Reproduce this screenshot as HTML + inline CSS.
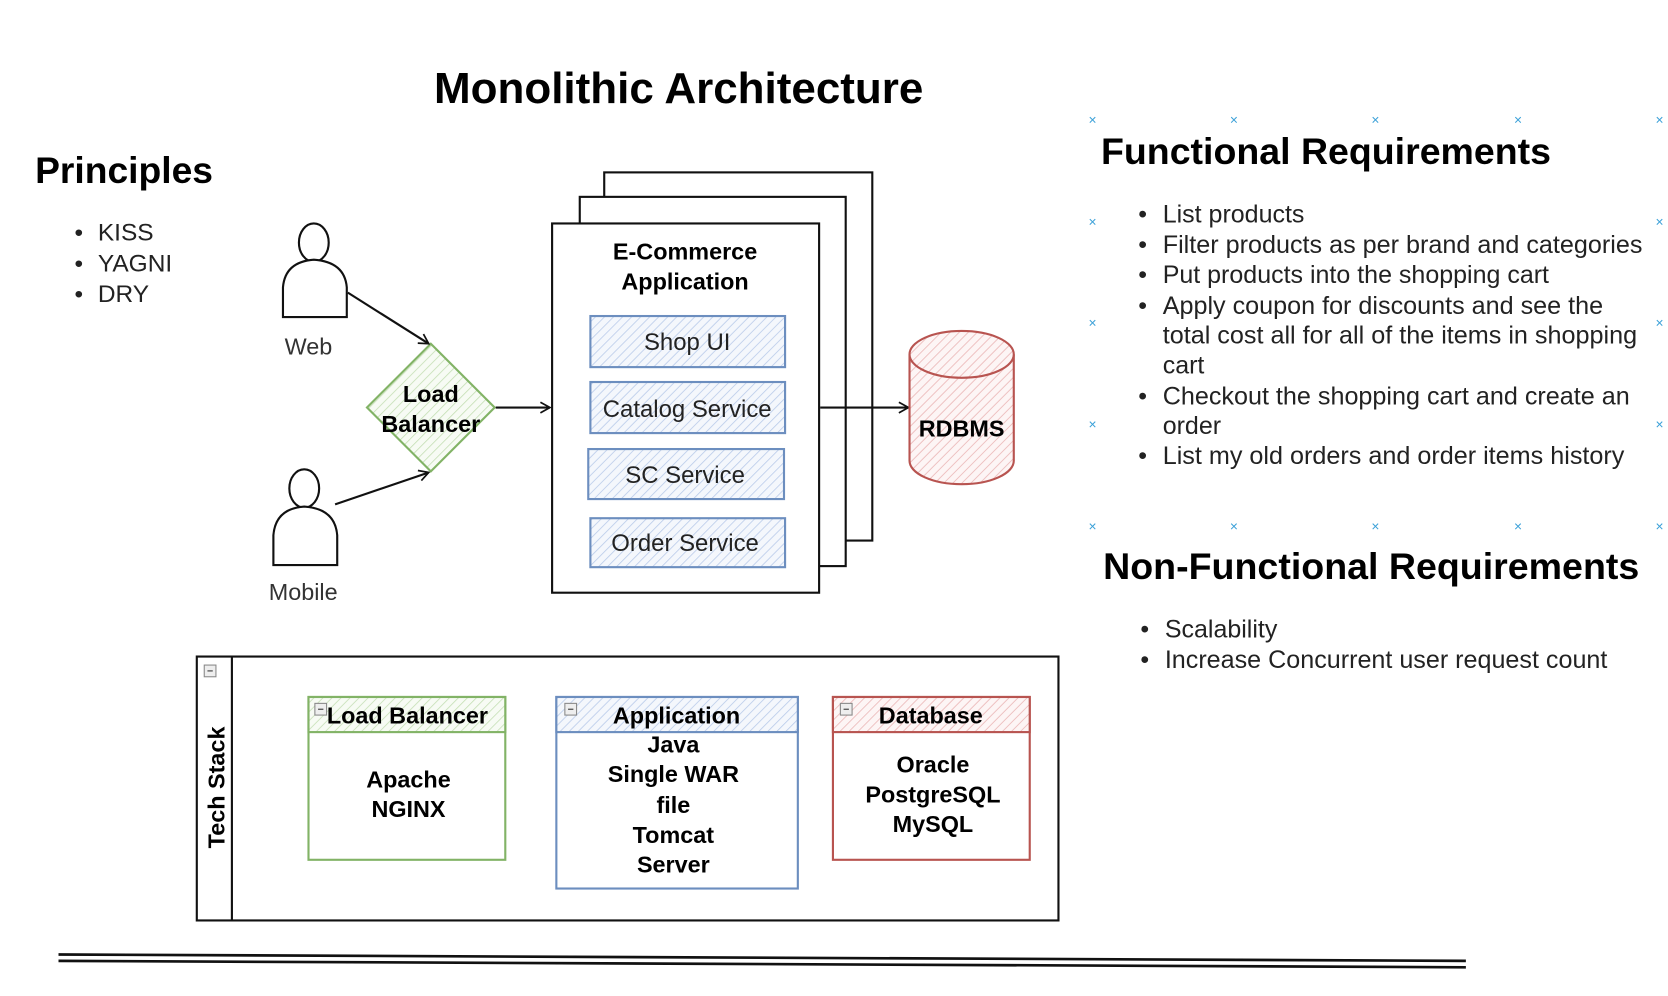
<!DOCTYPE html>
<html><head><meta charset="utf-8"><style>
html,body{margin:0;padding:0;background:#fff;}
svg{display:block;}
text{font-family:"Liberation Sans",Arial,sans-serif;}
</style></head><body>
<svg width="1668" height="996" viewBox="0 0 1568 936" preserveAspectRatio="none" xmlns="http://www.w3.org/2000/svg">
<defs>
<pattern id="hb" width="6" height="6" patternUnits="userSpaceOnUse" patternTransform="rotate(45)"><rect width="6" height="6" fill="#f4f7fc"/><line x1="0" y1="0" x2="0" y2="6" stroke="#b9cbea" stroke-width="1.5"/></pattern>
<pattern id="hg" width="6" height="6" patternUnits="userSpaceOnUse" patternTransform="rotate(45)"><rect width="6" height="6" fill="#f7fbf4"/><line x1="0" y1="0" x2="0" y2="6" stroke="#c5dfb5" stroke-width="1.5"/></pattern>
<pattern id="hr" width="6" height="6" patternUnits="userSpaceOnUse" patternTransform="rotate(45)"><rect width="6" height="6" fill="#fdf5f5"/><line x1="0" y1="0" x2="0" y2="6" stroke="#eab5b5" stroke-width="1.5"/></pattern>
<marker id="ar" markerWidth="12" markerHeight="12" refX="10" refY="6" orient="auto" markerUnits="userSpaceOnUse"><path d="M1,1 L10,6 L1,11" fill="none" stroke="#111" stroke-width="1.6"/></marker>
</defs>

<text x="408" y="97" font-size="41" font-weight="bold" textLength="460" lengthAdjust="spacingAndGlyphs">Monolithic Architecture</text>

<text x="33" y="172" font-size="35" font-weight="bold">Principles</text>
<g font-size="23" fill="#222">
<text x="70" y="226">•</text><text x="92" y="226">KISS</text>
<text x="70" y="255">•</text><text x="92" y="255">YAGNI</text>
<text x="70" y="284">•</text><text x="92" y="284">DRY</text>
</g>

<g fill="#fff" stroke="#111" stroke-width="2">
<ellipse cx="295" cy="228" rx="14" ry="18"/>
<path d="M266,298 L266,270 Q268,246 295,244 Q324,246 326,270 L326,298 Z"/>
<ellipse cx="286" cy="459" rx="14" ry="18"/>
<path d="M257,531 L257,503 Q259,478 286,476 Q315,478 317,503 L317,531 Z"/>
</g>
<text x="290" y="333" font-size="22" fill="#333" text-anchor="middle">Web</text>
<text x="285" y="564" font-size="22" fill="#333" text-anchor="middle">Mobile</text>

<path d="M405,323 L465,383 L405,443 L345,383 Z" fill="url(#hg)" stroke="#82b366" stroke-width="2"/>
<text x="405" y="378" font-size="22" font-weight="bold" text-anchor="middle">Load</text>
<text x="405" y="406" font-size="22" font-weight="bold" text-anchor="middle">Balancer</text>

<g stroke="#111" stroke-width="2" fill="none">
<line x1="327" y1="275" x2="403" y2="323" marker-end="url(#ar)"/>
<line x1="315" y1="474" x2="403" y2="444" marker-end="url(#ar)"/>
<line x1="466" y1="383" x2="517" y2="383" marker-end="url(#ar)"/>
</g>

<g fill="#fff" stroke="#111" stroke-width="2">
<rect x="568" y="162" width="252" height="346"/>
<rect x="545" y="185" width="250" height="347"/>
<rect x="519" y="210" width="251" height="347"/>
</g>
<text x="644" y="244" font-size="22" font-weight="bold" text-anchor="middle">E-Commerce</text>
<text x="644" y="272" font-size="22" font-weight="bold" text-anchor="middle">Application</text>
<g stroke="#6c8ebf" stroke-width="2" fill="url(#hb)">
<rect x="555" y="297" width="183" height="48"/>
<rect x="555" y="359" width="183" height="48"/>
<rect x="553" y="422" width="184" height="47"/>
<rect x="555" y="487" width="183" height="46"/>
</g>
<g font-size="22.5" fill="#222" text-anchor="middle">
<text x="646" y="329">Shop UI</text>
<text x="646" y="392">Catalog Service</text>
<text x="644" y="454">SC Service</text>
<text x="644" y="518">Order Service</text>
</g>
<line x1="771" y1="383" x2="854" y2="383" stroke="#111" stroke-width="2" marker-end="url(#ar)"/>

<path d="M855,333 L855,433 A49,22 0 0 0 953,433 L953,333" fill="url(#hr)" stroke="#b85450" stroke-width="2"/>
<ellipse cx="904" cy="333" rx="49" ry="22" fill="url(#hr)" stroke="#b85450" stroke-width="2"/>
<text x="904" y="410" font-size="22" font-weight="bold" text-anchor="middle">RDBMS</text>

<g fill="#3aa0d8" font-size="13" text-anchor="middle">
<text x="1027" y="117">×</text><text x="1160" y="117">×</text><text x="1293" y="117">×</text><text x="1427" y="117">×</text><text x="1560" y="117">×</text>
<text x="1027" y="499">×</text><text x="1160" y="499">×</text><text x="1293" y="499">×</text><text x="1427" y="499">×</text><text x="1560" y="499">×</text>
<text x="1027" y="213">×</text><text x="1560" y="213">×</text>
<text x="1027" y="308">×</text><text x="1560" y="308">×</text>
<text x="1027" y="403">×</text><text x="1560" y="403">×</text>
</g>

<text x="1035" y="154" font-size="35" font-weight="bold" textLength="423" lengthAdjust="spacingAndGlyphs">Functional Requirements</text>
<g font-size="23.5" fill="#222">
<text x="1070" y="209">•</text><text x="1093" y="209">List products</text>
<text x="1070" y="238">•</text><text x="1093" y="238" textLength="451" lengthAdjust="spacingAndGlyphs">Filter products as per brand and categories</text>
<text x="1070" y="266">•</text><text x="1093" y="266">Put products into the shopping cart</text>
<text x="1070" y="295">•</text><text x="1093" y="295" textLength="414" lengthAdjust="spacingAndGlyphs">Apply coupon for discounts and see the</text>
<text x="1093" y="323" textLength="446" lengthAdjust="spacingAndGlyphs">total cost all for all of the items in shopping</text>
<text x="1093" y="351">cart</text>
<text x="1070" y="380">•</text><text x="1093" y="380" textLength="439" lengthAdjust="spacingAndGlyphs">Checkout the shopping cart and create an</text>
<text x="1093" y="408">order</text>
<text x="1070" y="436">•</text><text x="1093" y="436" textLength="434" lengthAdjust="spacingAndGlyphs">List my old orders and order items history</text>
</g>

<text x="1037" y="544" font-size="35" font-weight="bold" textLength="504" lengthAdjust="spacingAndGlyphs">Non-Functional Requirements</text>
<g font-size="23.5" fill="#222">
<text x="1072" y="599">•</text><text x="1095" y="599">Scalability</text>
<text x="1072" y="628">•</text><text x="1095" y="628" textLength="416" lengthAdjust="spacingAndGlyphs">Increase Concurrent user request count</text>
</g>

<rect x="185" y="617" width="810" height="248" fill="#fff" stroke="#111" stroke-width="2"/>
<line x1="218" y1="617" x2="218" y2="865" stroke="#111" stroke-width="2"/>
<rect x="192" y="625" width="11" height="11" fill="#eee" stroke="#888" stroke-width="1"/>
<line x1="195" y1="630.5" x2="200" y2="630.5" stroke="#333"/>
<text transform="translate(211,740) rotate(-90)" font-size="22" font-weight="bold" text-anchor="middle">Tech Stack</text>

<g stroke-width="2">
<rect x="290" y="655" width="185" height="153" fill="#fff" stroke="#82b366"/>
<rect x="290" y="655" width="185" height="33" fill="url(#hg)" stroke="#82b366"/>
<rect x="523" y="655" width="227" height="180" fill="#fff" stroke="#6c8ebf"/>
<rect x="523" y="655" width="227" height="33" fill="url(#hb)" stroke="#6c8ebf"/>
<rect x="783" y="655" width="185" height="153" fill="#fff" stroke="#b85450"/>
<rect x="783" y="655" width="185" height="33" fill="url(#hr)" stroke="#b85450"/>
</g>
<g fill="#eee" stroke="#888" stroke-width="1">
<rect x="296" y="661" width="11" height="11"/><rect x="531" y="661" width="11" height="11"/><rect x="790" y="661" width="11" height="11"/>
</g>
<g stroke="#333"><line x1="299" y1="666.5" x2="304" y2="666.5"/><line x1="534" y1="666.5" x2="539" y2="666.5"/><line x1="793" y1="666.5" x2="798" y2="666.5"/></g>
<g font-size="22" font-weight="bold" text-anchor="middle">
<text x="383" y="680">Load Balancer</text>
<text x="636" y="680">Application</text>
<text x="875" y="680">Database</text>
<text x="384" y="740">Apache</text><text x="384" y="768">NGINX</text>
<text x="633" y="707">Java</text><text x="633" y="735">Single WAR</text><text x="633" y="764">file</text><text x="633" y="792">Tomcat</text><text x="633" y="820">Server</text>
<text x="877" y="726">Oracle</text><text x="877" y="754">PostgreSQL</text><text x="877" y="782">MySQL</text>
</g>

<line x1="55" y1="897" x2="1378" y2="903" stroke="#111" stroke-width="2.5"/>
<line x1="55" y1="903" x2="1378" y2="909" stroke="#111" stroke-width="2.5"/>
</svg>
</body></html>
